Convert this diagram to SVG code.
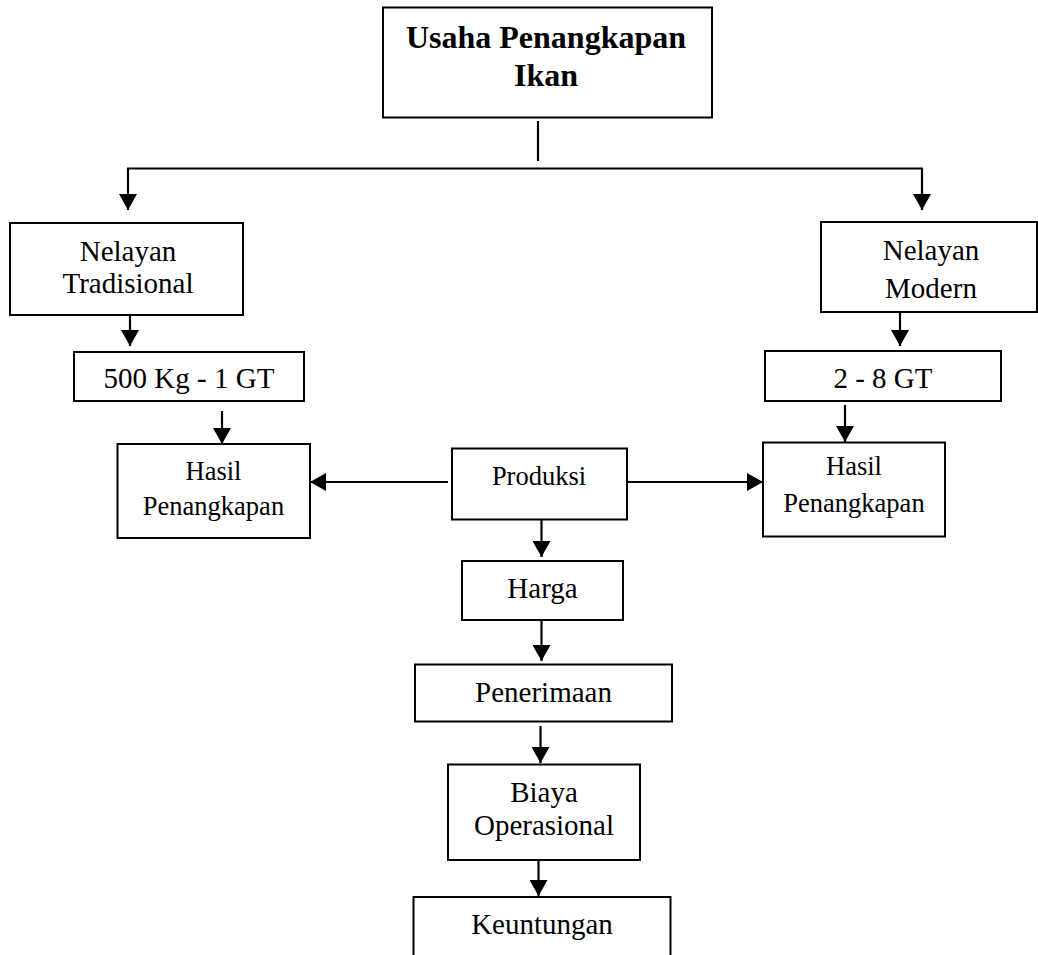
<svg xmlns="http://www.w3.org/2000/svg" width="1038" height="955" viewBox="0 0 1038 955">
<style>
.box{fill:#fff;stroke:#000;stroke-width:2}
.t{font-family:"Liberation Serif","Times New Roman",serif;fill:#000;text-anchor:middle}
.n{font-size:29px}
.s{font-size:26.5px}
.b{font-size:32px;font-weight:bold}
.c{stroke:#000;stroke-width:2.2;fill:none}
.a{marker-end:url(#ah)}
</style>
<defs>
<marker id="ah" markerUnits="userSpaceOnUse" markerWidth="16" markerHeight="18" refX="16" refY="9" orient="auto">
<path d="M0,0 L16,9 L0,18 z" fill="#000"/>
</marker>
</defs>
<rect width="1038" height="955" fill="#fff"/>
<g id="connectors">
<line class="c" x1="538" y1="121" x2="538" y2="161"/>
<line class="c" x1="127" y1="168.5" x2="923" y2="168.5"/>
<line class="c a" x1="128" y1="168.5" x2="128" y2="210"/>
<line class="c a" x1="922" y1="168.5" x2="922" y2="210"/>
<line class="c a" x1="130" y1="315" x2="130" y2="346"/>
<line class="c a" x1="900" y1="312" x2="900" y2="346"/>
<line class="c a" x1="222" y1="411" x2="222" y2="444"/>
<line class="c a" x1="845" y1="405" x2="845" y2="442"/>
<line class="c a" x1="448" y1="482" x2="310" y2="482"/>
<line class="c a" x1="627" y1="482" x2="763" y2="482"/>
<line class="c a" x1="541.5" y1="519" x2="541.5" y2="557"/>
<line class="c a" x1="541.5" y1="620" x2="541.5" y2="661"/>
<line class="c a" x1="540.5" y1="726" x2="540.5" y2="763"/>
<line class="c a" x1="538.5" y1="860" x2="538.5" y2="896"/>
</g>
<g id="usaha">
<rect class="box" x="383" y="7.5" width="329" height="110"/>
<text class="t b" x="546" y="48">Usaha Penangkapan</text>
<text class="t b" x="546" y="86">Ikan</text>
</g>
<g id="nelayan-tradisional">
<rect class="box" x="10" y="223" width="233" height="92"/>
<text class="t n" x="128" y="261">Nelayan</text>
<text class="t n" x="128" y="293">Tradisional</text>
</g>
<g id="nelayan-modern">
<rect class="box" x="821" y="222" width="216" height="90"/>
<text class="t n" x="931" y="260">Nelayan</text>
<text class="t n" x="931" y="298">Modern</text>
</g>
<g id="gt-tradisional">
<rect class="box" x="74" y="352" width="230" height="49"/>
<text class="t n" x="189" y="388">500 Kg - 1 GT</text>
</g>
<g id="gt-modern">
<rect class="box" x="765" y="351" width="236" height="50"/>
<text class="t n" x="883" y="388">2 - 8 GT</text>
</g>
<g id="hasil-kiri">
<rect class="box" x="117.5" y="444" width="192.5" height="94"/>
<text class="t s" x="213.5" y="480">Hasil</text>
<text class="t s" x="213.5" y="515">Penangkapan</text>
</g>
<g id="hasil-kanan">
<rect class="box" x="763" y="442.5" width="182" height="94"/>
<text class="t s" x="854" y="475">Hasil</text>
<text class="t s" x="854" y="511.5">Penangkapan</text>
</g>
<g id="produksi">
<rect class="box" x="452" y="448.5" width="175" height="71"/>
<text class="t s" x="539" y="485">Produksi</text>
</g>
<g id="harga">
<rect class="box" x="462" y="561" width="161" height="59"/>
<text class="t n" x="542.5" y="598">Harga</text>
</g>
<g id="penerimaan">
<rect class="box" x="415" y="664.5" width="257" height="57"/>
<text class="t n" x="543.5" y="701.5">Penerimaan</text>
</g>
<g id="biaya">
<rect class="box" x="448" y="764.5" width="192" height="95.5"/>
<text class="t n" x="544" y="801.5">Biaya</text>
<text class="t n" x="544" y="835">Operasional</text>
</g>
<g id="keuntungan">
<rect class="box" x="413.5" y="897" width="257" height="70"/>
<text class="t n" x="542" y="933.5">Keuntungan</text>
</g>
</svg>
